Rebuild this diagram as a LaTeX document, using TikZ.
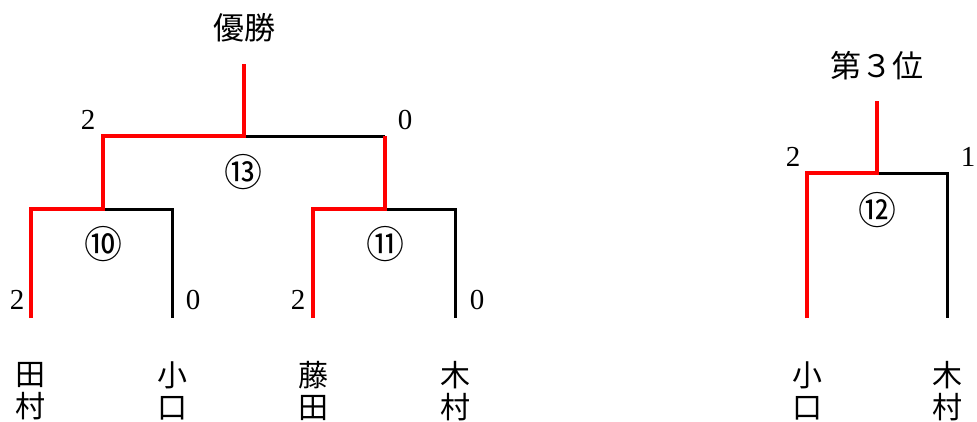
\documentclass[tikz,border=0pt]{standalone}
\usepackage{fontspec}
\setmainfont{Liberation Serif}
\newfontfamily\jp{Noto Sans CJK JP}
\begin{document}
\begin{tikzpicture}[x=1pt,y=-1pt,
 win/.style={draw=red,line width=4.5pt},
 lose/.style={draw=black,line width=3pt},
 lbl/.style={font=\jp\fontsize{31}{31}\selectfont, inner sep=0pt},
 circ/.style={font=\jp\fontsize{38}{38}\selectfont, inner sep=0pt},
 num/.style={font=\fontsize{29}{29}\selectfont, inner sep=0pt},
 pname/.style={font=\jp\fontsize{30}{32}\selectfont, align=center, inner sep=0pt}]
\useasboundingbox (0,0) rectangle (977,421);
% main bracket
\coordinate (a0) at (31,318);
\coordinate (a1) at (31,209);
\coordinate (j1) at (103,209);
\coordinate (b1) at (172,209);
\coordinate (b0) at (172,318);
\coordinate (c0) at (313,318);
\coordinate (c1) at (313,209);
\coordinate (j2) at (385,209);
\coordinate (d1) at (455,209);
\coordinate (d0) at (455,318);
\coordinate (s1) at (103,136);
\coordinate (s2) at (385,136);
\coordinate (f) at (244,136);
\coordinate (top) at (244,64);
\draw[lose] (j1) -- (b1) -- (b0);
\draw[lose] (j2) -- (d1) -- (d0);
\draw[lose] (f) -- (s2);
\draw[win] (a0) -- (a1) -- (j1) -- (s1) -- (f) -- (top);
\draw[win] (c0) -- (c1) -- (j2) -- (s2);
% third place bracket
\coordinate (e0) at (807,318);
\coordinate (e1) at (807,173);
\coordinate (k) at (877,173);
\coordinate (g1) at (947,173);
\coordinate (g0) at (947,318);
\coordinate (ktop) at (877,101);
\draw[lose] (k) -- (g1) -- (g0);
\draw[win] (e0) -- (e1) -- (k) -- (ktop);
% titles
\node[lbl] (champ) at (244,28) {優勝};
\node[lbl] (third) at (877,66) {第３位};
% match numbers
\node[circ] (m13) at (243,172) {⑬};
\node[circ] (m10) at (103,244) {⑩};
\node[circ] (m11) at (385,244) {⑪};
\node[circ] (m12) at (877,210) {⑫};
% scores
\node[num] (sc1) at (88,120) {2};
\node[num] (sc2) at (405,120) {0};
\node[num] (sc3) at (17,300) {2};
\node[num] (sc4) at (193,300) {0};
\node[num] (sc5) at (298,300) {2};
\node[num] (sc6) at (477,300) {0};
\node[num] (sc7) at (793,157) {2};
\node[num] (sc8) at (968,157) {1};
% names
\node[pname] (p1) at (31,391) {田\\村};
\node[pname] (p2) at (172,391) {小\\口};
\node[pname] (p3) at (313,391) {藤\\田};
\node[pname] (p4) at (455,391) {木\\村};
\node[pname] (p5) at (807,391) {小\\口};
\node[pname] (p6) at (947,391) {木\\村};
\end{tikzpicture}
\end{document}
